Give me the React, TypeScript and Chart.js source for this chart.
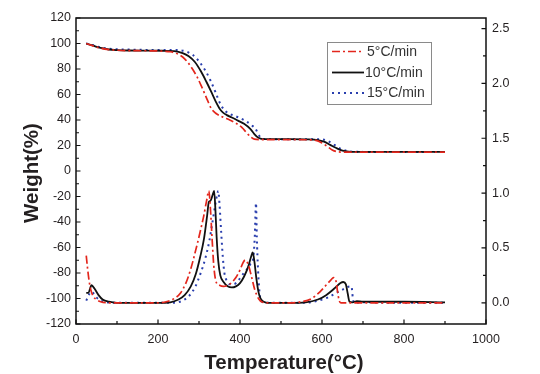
import React, { useEffect, useRef } from "react";
import { Chart, registerables } from "chart.js";

Chart.register(...registerables);

// ---------- DATA ----------
const seriesLabels = ["5°C/min", "10°C/min", "15°C/min"];
const seriesColors = ["#e3261c", "#111111", "#2a3fae"];

// TG curves (Weight %, left axis)
const tg5T = [25, 40, 60, 80, 100, 130, 170, 210, 230, 250, 265, 280, 295, 308, 320, 330, 340, 350, 360, 375, 390, 405, 415, 425, 435, 450, 500, 560, 585, 600, 612, 625, 640, 660, 700, 800, 900];
const tg5W = [100, 98.3, 96.3, 95.2, 94.7, 94.4, 94.3, 94, 93.5, 91.5, 88, 82, 74, 65, 56, 49, 45.5, 43.5, 42, 40, 37.5, 34, 30.5, 27, 25, 24.6, 24.6, 24.5, 24, 22, 19.5, 16.5, 15, 14.8, 14.8, 14.8, 14.8];

const tg10T = [25, 40, 60, 80, 100, 130, 170, 210, 240, 260, 275, 290, 305, 318, 330, 340, 350, 358, 368, 380, 395, 410, 425, 435, 445, 455, 480, 520, 560, 590, 605, 620, 635, 650, 665, 680, 720, 800, 900];
const tg10W = [100, 98.5, 96.5, 95.3, 94.8, 94.5, 94.4, 94.3, 94, 92.5, 90, 85.5, 78, 70, 62, 55, 49, 46, 43.8, 42, 39.5, 37, 33, 29, 26, 25, 25, 25, 24.8, 24.3, 23, 20.5, 18, 16, 15.2, 15, 15, 15, 15];

const tg15T = [25, 40, 60, 80, 100, 130, 170, 210, 250, 270, 285, 300, 315, 328, 340, 350, 360, 370, 385, 400, 415, 428, 438, 446, 455, 480, 540, 600, 615, 630, 645, 660, 675, 700, 800, 900];
const tg15W = [100, 98.8, 97, 96, 95.5, 95.2, 95, 95, 94.8, 93.5, 91, 86, 79, 71, 62, 54, 48.5, 45.5, 43.5, 41.5, 39, 36, 33, 28, 25.2, 25, 25, 24.8, 23.5, 20.5, 17.5, 15.8, 15.1, 15, 15, 15];

// DTG curves (right axis)
const dtg5T = [25, 28, 32, 36, 42, 50, 60, 80, 150, 200, 220, 240, 255, 268, 280, 292, 303, 312, 318, 324, 328, 332, 336, 341, 350, 360, 375, 390, 400, 408, 413, 420, 428, 436, 445, 455, 470, 520, 550, 575, 595, 612, 622, 628, 634, 638, 642, 646, 700, 800, 900];
const dtg5R = [0.43, 0.32, 0.2, 0.12, 0.06, 0.03, 0.01, 0, 0, 0, 0.01, 0.04, 0.09, 0.18, 0.31, 0.48, 0.65, 0.8, 0.92, 1.02, 0.85, 0.58, 0.34, 0.2, 0.16, 0.15, 0.17, 0.23, 0.3, 0.37, 0.39, 0.35, 0.24, 0.12, 0.04, 0.005, 0, 0, 0.01, 0.04, 0.1, 0.17, 0.21, 0.23, 0.2, 0.1, 0.02, 0, 0, 0, 0];

const dtg10T = [25, 30, 38, 45, 55, 65, 80, 100, 150, 200, 230, 250, 265, 280, 292, 303, 312, 320, 324, 328, 333, 337, 340, 343, 347, 352, 360, 370, 380, 390, 400, 410, 420, 427, 431, 435, 440, 445, 450, 458, 470, 520, 560, 590, 610, 630, 645, 652, 658, 663, 667, 675, 685, 700, 800, 900];
const dtg10R = [0.09, 0.09, 0.16, 0.13, 0.07, 0.03, 0.01, 0, 0, 0, 0.005, 0.03, 0.07, 0.15, 0.26, 0.42, 0.58, 0.8, 0.92, 0.93, 0.98, 1.02, 0.85, 0.6, 0.38, 0.25, 0.19, 0.15, 0.14, 0.15, 0.18, 0.24, 0.33, 0.42, 0.46, 0.38, 0.22, 0.1, 0.04, 0.01, 0, 0, 0.005, 0.03, 0.07, 0.13, 0.18, 0.19, 0.17, 0.08, 0.01, 0.005, 0.015, 0.01, 0.01, 0.005];

const dtg15T = [25, 30, 36, 42, 50, 60, 75, 100, 200, 240, 260, 275, 290, 303, 315, 325, 333, 340, 345, 347, 350, 354, 358, 362, 368, 375, 385, 395, 405, 416, 425, 432, 436, 439, 441, 444, 448, 452, 460, 520, 560, 590, 615, 635, 655, 668, 672, 675, 678, 700, 800, 900];
const dtg15R = [0.02, 0.06, 0.1, 0.09, 0.05, 0.02, 0.005, 0, 0, 0, 0.02, 0.06, 0.14, 0.26, 0.4, 0.56, 0.74, 0.9, 1.0, 1.02, 0.9, 0.65, 0.42, 0.27, 0.2, 0.17, 0.17, 0.2, 0.25, 0.3, 0.35, 0.4, 0.6, 0.91, 0.6, 0.3, 0.08, 0.02, 0, 0, 0, 0.02, 0.05, 0.09, 0.13, 0.15, 0.15, 0.05, 0, 0.005, 0, 0];

// Axis ticks
const xTicks = [0, 200, 400, 600, 800, 1000];
const yLeftTicks = [-120, -100, -80, -60, -40, -20, 0, 20, 40, 60, 80, 100, 120];
const yRightTicks = [0, 0.5, 1.0, 1.5, 2.0, 2.5];

const xTitle = "Temperature(°C)";
const yTitle = "Weight(%)";

// ---------- STYLE ----------
const FONT = "'Liberation Sans', Arial, sans-serif";
const dashes = [[8, 3, 2, 3], [], [2, 4]];
const widths = [1.7, 1.8, 2];

const toXY = (xs: number[], ys: number[]) => xs.map((x, i) => ({ x, y: ys[i] }));

const framePlugin = {
  id: "framePlugin",
  afterDraw(chart: any) {
    const { ctx, chartArea, scales } = chart;
    const { left, right, top, bottom } = chartArea;
    ctx.save();
    // frame
    ctx.strokeStyle = "#111";
    ctx.lineWidth = 1.5;
    ctx.strokeRect(left, top, right - left, bottom - top);
    ctx.lineWidth = 1.2;
    ctx.beginPath();
    // x ticks (inward)
    for (let t = 0; t <= 1000; t += 100) {
      const px = scales.x.getPixelForValue(t);
      const len = t % 200 === 0 ? 4.5 : 3;
      ctx.moveTo(px, bottom);
      ctx.lineTo(px, bottom - len);
    }
    // left ticks
    for (let v = -120; v <= 120; v += 10) {
      const py = scales.y.getPixelForValue(v);
      const len = v % 20 === 0 ? 4.5 : 3;
      ctx.moveTo(left, py);
      ctx.lineTo(left + len, py);
    }
    // right ticks
    for (let k = 0; k <= 10; k++) {
      const r = k * 0.25;
      const py = scales.y2.getPixelForValue(r);
      const len = k % 2 === 0 ? 4.5 : 3;
      ctx.moveTo(right, py);
      ctx.lineTo(right - len, py);
    }
    ctx.stroke();

    // axis titles
    ctx.fillStyle = "#231f20";
    ctx.font = `bold 20.5px ${FONT}`;
    ctx.textAlign = "center";
    ctx.textBaseline = "middle";
    ctx.fillText(xTitle, 284, 363);
    ctx.save();
    ctx.translate(32, 173);
    ctx.rotate(-Math.PI / 2);
    ctx.fillText(yTitle, 0, 0);
    ctx.restore();

    // legend
    const lx = 327, ly = 42, lw = 104, lh = 62;
    ctx.strokeStyle = "#8a8a8a";
    ctx.lineWidth = 1;
    ctx.strokeRect(lx + 0.5, ly + 0.5, lw, lh);
    const rows = [51.5, 72.5, 93];
    ctx.font = `14px ${FONT}`;
    ctx.textAlign = "left";
    for (let i = 0; i < 3; i++) {
      ctx.beginPath();
      ctx.strokeStyle = seriesColors[i];
      ctx.lineWidth = widths[i];
      ctx.setLineDash(dashes[i]);
      ctx.moveTo(332, rows[i]);
      ctx.lineTo(364, rows[i]);
      ctx.stroke();
      ctx.setLineDash([]);
      ctx.fillStyle = "#333";
      ctx.fillText(seriesLabels[i], i === 1 ? 365 : 367, rows[i] + 0.5);
    }
    ctx.restore();
  },
};

export default function App() {
  const ref = useRef<HTMLCanvasElement>(null);

  useEffect(() => {
    if (!ref.current) return;
    const tgSets = [toXY(tg5T, tg5W), toXY(tg10T, tg10W), toXY(tg15T, tg15W)];
    const dtgSets = [toXY(dtg5T, dtg5R), toXY(dtg10T, dtg10R), toXY(dtg15T, dtg15R)];
    const datasets: any[] = [];
    for (let i = 0; i < 3; i++) {
      const common = {
        borderColor: seriesColors[i],
        borderWidth: widths[i],
        borderDash: dashes[i],
        pointRadius: 0,
        fill: false,
        cubicInterpolationMode: "monotone",
      };
      datasets.push({ label: seriesLabels[i], data: tgSets[i], yAxisID: "y", ...common });
      datasets.push({ label: seriesLabels[i] + " DTG", data: dtgSets[i], yAxisID: "y2", ...common });
    }
    const tickFont = { family: FONT, size: 12.5 };
    const chart = new Chart(ref.current, {
      type: "line",
      data: { datasets },
      plugins: [framePlugin],
      options: {
        responsive: false,
        animation: false,
        layout: { padding: { top: 18, left: 0, right: 0, bottom: 0 } },
        plugins: { legend: { display: false }, tooltip: { enabled: false } },
        scales: {
          x: {
            type: "linear",
            min: 0,
            max: 1000,
            afterBuildTicks: (s: any) => { s.ticks = xTicks.map((v) => ({ value: v })); },
            ticks: { font: tickFont, color: "#231f20", padding: 8, maxRotation: 0, callback: (v: any) => String(v) },
            grid: { display: false, drawTicks: false },
            border: { display: false },
            afterFit: (s: any) => { s.height = 50; },
          },
          y: {
            type: "linear",
            position: "left",
            min: -120,
            max: 120,
            afterBuildTicks: (s: any) => { s.ticks = yLeftTicks.map((v) => ({ value: v })); },
            ticks: { font: tickFont, color: "#231f20", padding: 5, callback: (v: any) => String(v) },
            grid: { display: false, drawTicks: false },
            border: { display: false },
            afterFit: (s: any) => { s.width = 76; },
          },
          y2: {
            type: "linear",
            position: "right",
            min: -0.193,
            max: 2.596,
            afterBuildTicks: (s: any) => { s.ticks = yRightTicks.map((v) => ({ value: v })); },
            ticks: {
              font: tickFont,
              color: "#231f20",
              padding: 6,
              callback: (v: any) => Number(v).toFixed(1),
            },
            grid: { display: false, drawTicks: false },
            border: { display: false },
            afterFit: (s: any) => { s.width = 54; },
          },
        },
      } as any,
    });
    return () => chart.destroy();
  }, []);

  return (
    <div style={{ position: "absolute", left: 0, top: 0, width: 540, height: 374, background: "#fff" }}>
      <canvas ref={ref} width={540} height={374} style={{ display: "block" }} />
    </div>
  );
}
